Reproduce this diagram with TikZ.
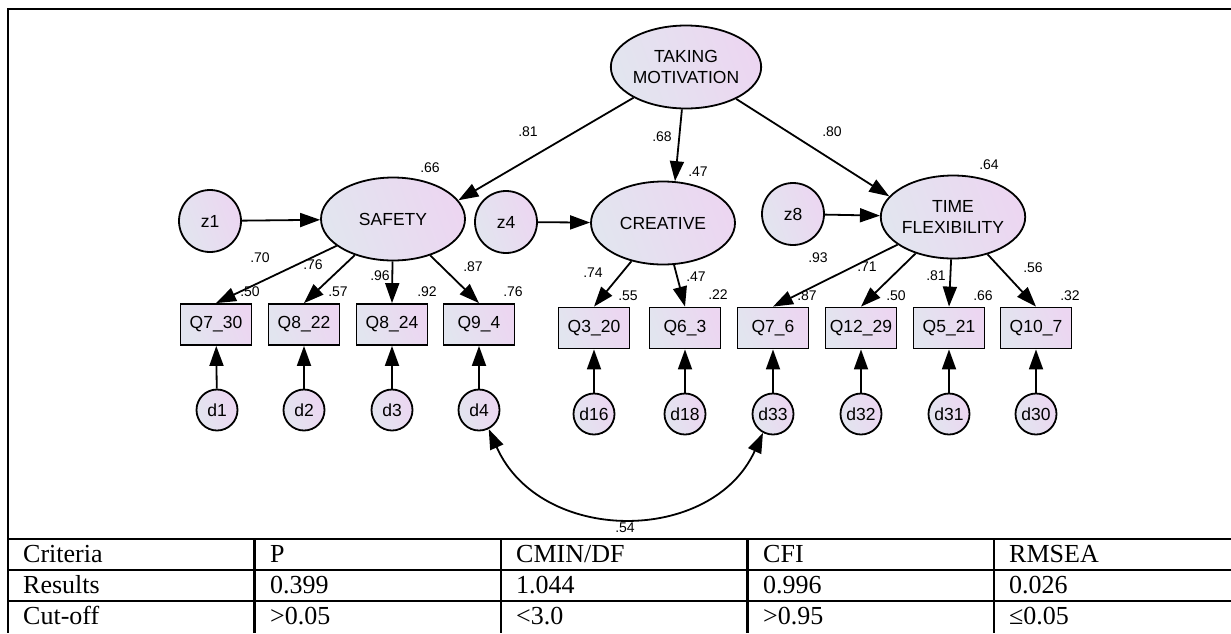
\documentclass[tikz,border=0pt]{standalone}
\usepackage{fontspec}
\setmainfont{Liberation Serif}
\newfontfamily\arial{Liberation Sans}
\usetikzlibrary{shapes.geometric,arrows.meta}
\definecolor{ca}{RGB}{226,229,239}
\definecolor{cb}{RGB}{236,214,241}
\begin{document}
\begin{tikzpicture}[x=1pt,y=-1pt,
  gradfill/.style={left color=ca,right color=cb,shading angle=110},
  latent/.style={ellipse,draw,line width=1.8pt,gradfill,minimum width=144pt,minimum height=83pt,inner sep=0pt,align=center,font=\arial\fontsize{17.5}{21}\selectfont},
  dist/.style={circle,draw,line width=1.8pt,gradfill,minimum size=62pt,inner sep=0pt,font=\arial\fontsize{17.5}{20}\selectfont},
  err/.style={circle,draw,line width=1.8pt,gradfill,minimum size=41pt,inner sep=0pt,font=\arial\fontsize{17.5}{20}\selectfont},
  obs/.style={rectangle,draw,line width=1.8pt,gradfill,minimum width=71pt,minimum height=41pt,inner sep=0pt,font=\arial\fontsize{17.5}{20}\selectfont},
  lbl/.style={inner sep=0pt,font=\arial\fontsize{14}{16}\selectfont},
  conn/.style={line width=1.8pt,-{Triangle[length=20pt,width=14pt]}},
  cov/.style={line width=1.8pt,{Triangle[length=20pt,width=14pt]}-{Triangle[length=20pt,width=14pt]}},
  rule/.style={line width=2.2pt},
  tbl/.style={inner sep=0pt,anchor=base west,font=\fontsize{26}{30}\selectfont}
]
\useasboundingbox (0,0) rectangle (1231,633);
% frame and table lines
\draw[rule] (1231,9) -- (8,9) -- (8,633);
\foreach \yy in {539,570,601} \draw[rule] (8,\yy) -- (1231,\yy);
\foreach \xx in {254.5,501,747.5,994} \draw[rule] (\xx,539) -- (\xx,633);
% latent variables
\node[latent] (TM) at (686,67) {TAKING\\MOTIVATION};
\node[latent] (S) at (393,219) {SAFETY};
\node[latent] (C) at (663,223) {CREATIVE};
\node[latent] (TF) at (953,217) {TIME\\FLEXIBILITY};
% disturbances
\node[dist] (z1) at (210,221) {z1};
\node[dist] (z4) at (506,222) {z4};
\node[dist] (z8) at (793,214) {z8};
% observed
\node[obs] (Q730) at (216,324.5) {Q7\_30};
\node[obs] (Q822) at (304,324.5) {Q8\_22};
\node[obs] (Q824) at (392,324.5) {Q8\_24};
\node[obs] (Q94) at (479,324.5) {Q9\_4};
\node[obs] (Q320) at (594,328) {Q3\_20};
\node[obs] (Q63) at (685,328) {Q6\_3};
\node[obs] (Q76) at (773,328) {Q7\_6};
\node[obs] (Q1229) at (861,328) {Q12\_29};
\node[obs] (Q521) at (949,328) {Q5\_21};
\node[obs] (Q107) at (1036,328) {Q10\_7};
% errors
\node[err] (d1) at (217,410) {d1};
\node[err] (d2) at (304,410) {d2};
\node[err] (d3) at (392,410) {d3};
\node[err] (d4) at (479,410) {d4};
\node[err] (d16) at (594,414) {d16};
\node[err] (d18) at (685,414) {d18};
\node[err] (d33) at (773,414) {d33};
\node[err] (d32) at (861,414) {d32};
\node[err] (d31) at (949,414) {d31};
\node[err] (d30) at (1036,414) {d30};
% structural paths
\draw[conn] (TM) -- (S.16);
\draw[conn] (TM) -- (C.74);
\draw[conn] (TM) -- (TF.162);
\draw[conn] (z1) -- (S);
\draw[conn] (z4) -- (C);
\draw[conn] (z8) -- (TF);
% loadings
\draw[conn] (S) -- (Q730.north);
\draw[conn] (S) -- (Q822.north);
\draw[conn] (S) -- (Q824.north);
\draw[conn] (S) -- (Q94.north);
\draw[conn] (C) -- (Q320.north);
\draw[conn] (C) -- (Q63.north);
\draw[conn] (TF) -- (Q76.north);
\draw[conn] (TF) -- (Q1229.north);
\draw[conn] (TF) -- (Q521.north);
\draw[conn] (TF) -- (Q107.north);
% errors to indicators
\foreach \e/\q in {d1/Q730,d2/Q822,d3/Q824,d4/Q94,d16/Q320,d18/Q63,d33/Q76,d32/Q1229,d31/Q521,d30/Q107}
  \draw[conn] (\e) -- (\q);
% covariance
\draw[cov] (d4.297) .. controls (540,545) and (712,545) .. (d33.242);
% labels
\node[lbl] (r1) at (430,168) {.66};
\node[lbl] (r2) at (698,172) {.47};
\node[lbl] (r3) at (989,165) {.64};
\node[lbl] (p1) at (528,132) {.81};
\node[lbl] (p2) at (662,137) {.68};
\node[lbl] (p3) at (832,132) {.80};
\node[lbl] (l1) at (260,258) {.70};
\node[lbl] (l2) at (313,265) {.76};
\node[lbl] (l3) at (380,276) {.96};
\node[lbl] (l4) at (473,267) {.87};
\node[lbl] (s1) at (250,292) {.50};
\node[lbl] (s2) at (338,292) {.57};
\node[lbl] (s3) at (427,292) {.92};
\node[lbl] (s4) at (513,292) {.76};
\node[lbl] (l5) at (593,273) {.74};
\node[lbl] (l6) at (696,277) {.47};
\node[lbl] (s5) at (628,296) {.55};
\node[lbl] (s6) at (718,295) {.22};
\node[lbl] (l7) at (818,258) {.93};
\node[lbl] (l8) at (867,267) {.71};
\node[lbl] (l9) at (936,276) {.81};
\node[lbl] (l10) at (1033,268) {.56};
\node[lbl] (s7) at (807,296) {.87};
\node[lbl] (s8) at (896,296) {.50};
\node[lbl] (s9) at (983,296) {.66};
\node[lbl] (s10) at (1070,296) {.32};
\node[lbl] (c1) at (625,528) {.54};
% table
\node[tbl] (t11) at (23,562) {Criteria};
\node[tbl] (t12) at (270,562) {P};
\node[tbl] (t13) at (516,562) {CMIN/DF};
\node[tbl] (t14) at (763,562) {CFI};
\node[tbl] (t15) at (1009,562) {RMSEA};
\node[tbl] (t21) at (23,593) {Results};
\node[tbl] (t22) at (270,593) {0.399};
\node[tbl] (t23) at (516,593) {1.044};
\node[tbl] (t24) at (763,593) {0.996};
\node[tbl] (t25) at (1009,593) {0.026};
\node[tbl] (t31) at (23,624) {Cut-off};
\node[tbl] (t32) at (270,624) {>0.05};
\node[tbl] (t33) at (516,624) {<3.0};
\node[tbl] (t34) at (763,624) {>0.95};
\node[tbl] (t35) at (1009,624) {≤0.05};
\end{tikzpicture}
\end{document}
